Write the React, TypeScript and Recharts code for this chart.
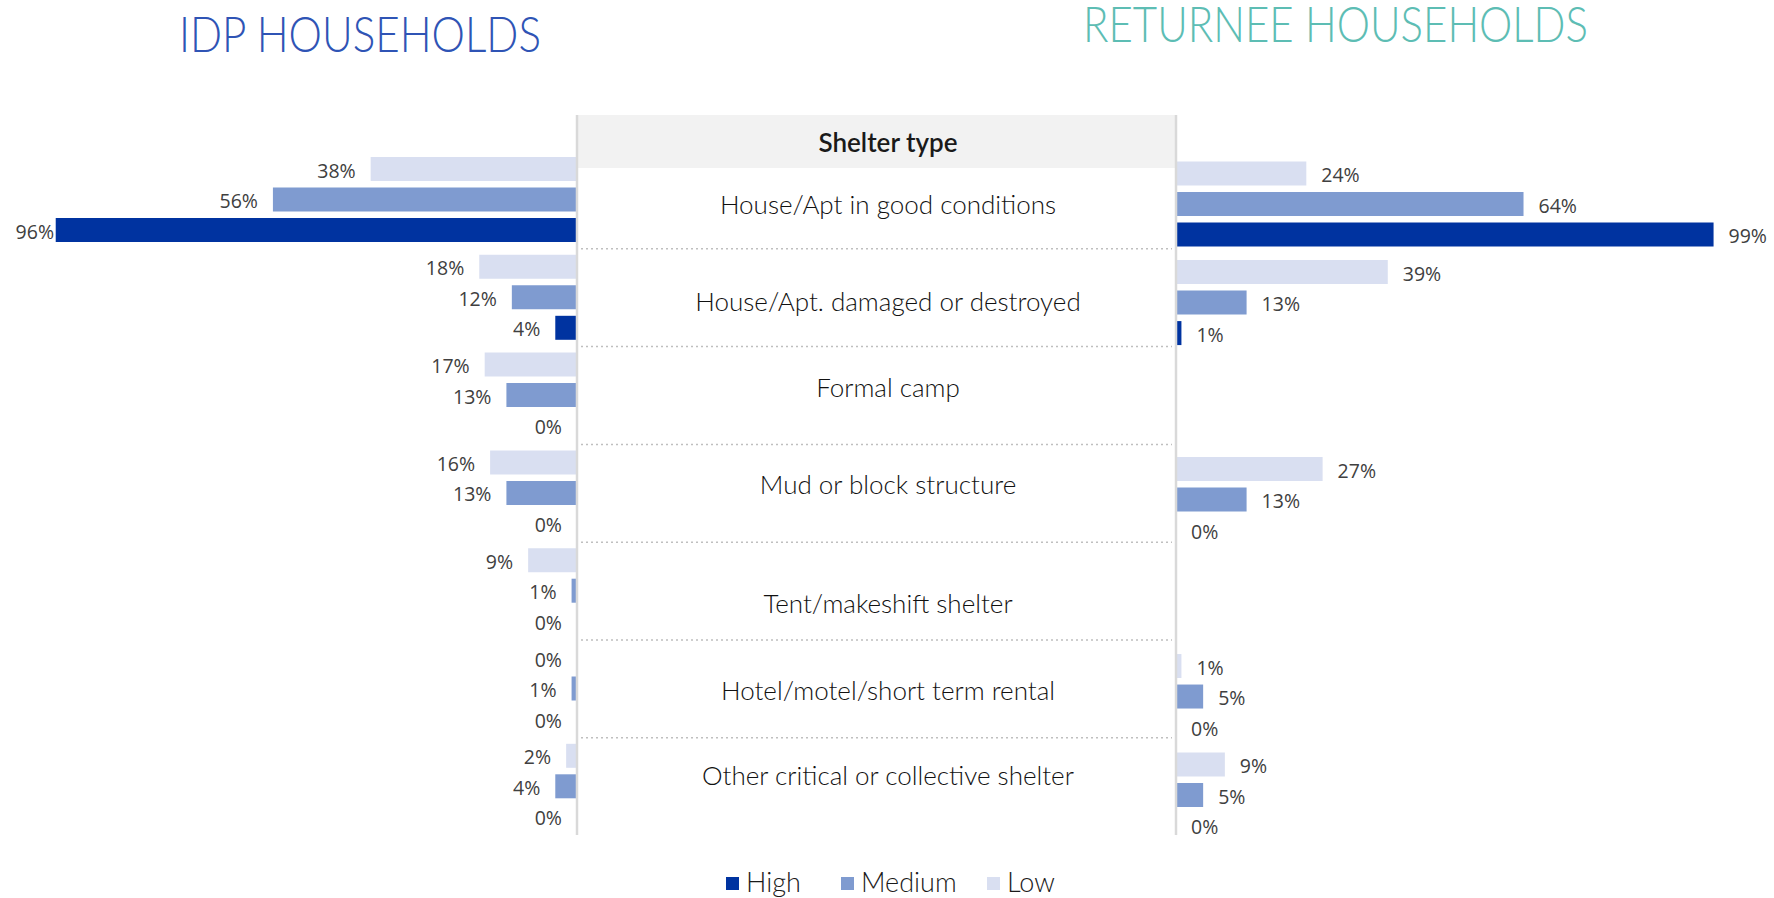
import React from 'react';
import { BarChart, Bar, XAxis, YAxis, LabelList } from 'recharts';

// ---------- DATA ----------
const CATEGORIES = [
  'House/Apt in good conditions',
  'House/Apt. damaged or destroyed',
  'Formal camp',
  'Mud or block structure',
  'Tent/makeshift shelter',
  'Hotel/motel/short term rental',
  'Other critical or collective shelter',
];

const IDP_LOW = [38, 18, 17, 16, 9, 0, 2];
const IDP_MEDIUM = [56, 12, 13, 13, 1, 1, 4];
const IDP_HIGH = [96, 4, 0, 0, 0, 0, 0];

const RET_LOW = [24, 39, null, 27, null, 1, 9];
const RET_MEDIUM = [64, 13, null, 13, null, 5, 5];
const RET_HIGH = [99, 1, null, 0, null, 0, 0];

const SERIES = [
  { key: 'low', name: 'Low', color: '#D9DFF1' },
  { key: 'medium', name: 'Medium', color: '#7F9BD0' },
  { key: 'high', name: 'High', color: '#0033A0' },
];

const TITLE_LEFT = 'IDP HOUSEHOLDS';
const TITLE_RIGHT = 'RETURNEE HOUSEHOLDS';
const TABLE_HEADER = 'Shelter type';

// ---------- LAYOUT / STYLE ----------
const W = 1774;
const H = 898;
const AXIS_L = 577;
const AXIS_R = 1176;
const LEFT_TOP = 151;
const LEFT_BOTTOM = 835.6;
const RIGHT_TOP = 154.6;
const RIGHT_BOTTOM = 844;
const PLOT_W = 543;
const TABLE_CX = 888;
const LABEL_FONT = "'Open Sans', 'Noto Sans', sans-serif";
const GILL = "Lato, 'Open Sans', sans-serif";
// vertical nudges of the table row texts relative to the band centres (table rows are uneven)
const ROW_TEXT_DY = [3.6, 3.2, -8.6, -9.4, 11.8, 1, -11.8];

const idpData = CATEGORIES.map((c, i) => ({
  category: c,
  low: IDP_LOW[i],
  medium: IDP_MEDIUM[i],
  high: IDP_HIGH[i],
}));
const retData = CATEGORIES.map((c, i) => ({
  category: c,
  low: RET_LOW[i],
  medium: RET_MEDIUM[i],
  high: RET_HIGH[i],
}));

const tinyForZero = (v: any) => (v === 0 ? 0.01 : 0);

function getBox(p: any) {
  const vb = p.viewBox || {};
  const x = p.x ?? vb.x ?? 0;
  const y = p.y ?? vb.y ?? 0;
  const w = p.width ?? vb.width ?? 0;
  const h = p.height ?? vb.height ?? 0;
  return { x, y, w, h };
}

const LeftLabel = (p: any) => {
  if (p.value === null || p.value === undefined) return null;
  const { x, y, w, h } = getBox(p);
  const x1 = Math.min(x, x + w);
  const xe = Math.max(x1 - 15, 54);
  return (
    <text x={xe} y={y + h / 2 + 1} textAnchor="end" dominantBaseline="central"
      fontFamily={LABEL_FONT} fontSize={19.5} fill="#404040">
      {`${p.value}%`}
    </text>
  );
};

const RightLabel = (p: any) => {
  if (p.value === null || p.value === undefined) return null;
  const { x, y, w, h } = getBox(p);
  const x2 = Math.max(x, x + w);
  return (
    <text x={x2 + 15} y={y + h / 2 + 1} textAnchor="start" dominantBaseline="central"
      fontFamily={LABEL_FONT} fontSize={19.5} fill="#404040">
      {`${p.value}%`}
    </text>
  );
};

const CategoryTick = (p: any) => {
  const idx = p.index ?? CATEGORIES.indexOf(p.payload?.value);
  const dy = ROW_TEXT_DY[idx] ?? 0;
  return (
    <text x={TABLE_CX} y={p.y + dy} textAnchor="middle" dominantBaseline="central"
      fontFamily={GILL} fontWeight={300} fontSize={26} fill="#111111">
      {p.payload?.value}
    </text>
  );
};

export default function App() {
  const band = (LEFT_BOTTOM - LEFT_TOP) / CATEGORIES.length;
  const separators = CATEGORIES.slice(1).map((_, i) => LEFT_TOP + band * (i + 1));
  const legendItems = [...SERIES].reverse();
  const legendX = [726, 841, 987];

  return (
    <div style={{ position: 'absolute', left: 0, top: 0, width: W, height: H, background: '#fff', overflow: 'hidden' }}>
      <svg width={W} height={H} style={{ position: 'absolute', left: 0, top: 0 }}>
        {/* table header */}
        <rect x={AXIS_L} y={115} width={AXIS_R - AXIS_L} height={53} fill="#F2F2F2" />
        <text x={TABLE_CX} y={141.5} textAnchor="middle" dominantBaseline="central"
          fontFamily={GILL} fontWeight={600} fontSize={26} fill="#1A1A1A">{TABLE_HEADER}</text>
        {separators.map((y, i) => (
          <line key={i} x1={AXIS_L + 4} x2={AXIS_R - 4} y1={y} y2={y}
            stroke="#BFBFBF" strokeWidth={1.5} strokeDasharray="2 3" />
        ))}
        {/* titles */}
        <text x={179} y={51.7} fontFamily={GILL} fontWeight={300} fontSize={50} fill="#2F54B5"
          textLength={362} lengthAdjust="spacingAndGlyphs">{TITLE_LEFT}</text>
        <text x={1083} y={41.8} fontFamily={GILL} fontWeight={300} fontSize={50} fill="#5DBDB4"
          textLength={505} lengthAdjust="spacingAndGlyphs">{TITLE_RIGHT}</text>
        {/* legend */}
        {legendItems.map((s, i) => (
          <g key={s.key}>
            <rect x={legendX[i]} y={877} width={13} height={13} fill={s.color} />
            <text x={legendX[i] + 20} y={891.5} fontFamily={GILL} fontWeight={300} fontSize={27} fill="#1A1A1A">{s.name}</text>
          </g>
        ))}
      </svg>

      <div style={{ position: 'absolute', left: 0, top: 0 }}>
        <BarChart layout="vertical" width={AXIS_R} height={H} data={idpData}
          margin={{ top: LEFT_TOP, bottom: H - LEFT_BOTTOM, left: AXIS_L - PLOT_W, right: 0 }}
          barSize={24} barGap={6.5}>
          <XAxis type="number" domain={[0, 100]} reversed hide />
          <YAxis type="category" dataKey="category" orientation="right" width={AXIS_R - AXIS_L}
            axisLine={false} tickLine={false} interval={0} tick={CategoryTick} />
          {SERIES.map((s) => (
            <Bar key={s.key} dataKey={s.key} name={s.name} fill={s.color} isAnimationActive={false}
              minPointSize={tinyForZero}>
              <LabelList dataKey={s.key} content={LeftLabel} />
            </Bar>
          ))}
        </BarChart>
      </div>

      <div style={{ position: 'absolute', left: AXIS_R, top: 0 }}>
        <BarChart layout="vertical" width={W - AXIS_R} height={H} data={retData}
          margin={{ top: RIGHT_TOP, bottom: H - RIGHT_BOTTOM, left: 0, right: W - AXIS_R - PLOT_W }}
          barSize={24} barGap={6.5}>
          <XAxis type="number" domain={[0, 100]} hide />
          <YAxis type="category" dataKey="category" hide width={0} />
          {SERIES.map((s) => (
            <Bar key={s.key} dataKey={s.key} name={s.name} fill={s.color} isAnimationActive={false}
              minPointSize={tinyForZero}>
              <LabelList dataKey={s.key} content={RightLabel} />
            </Bar>
          ))}
        </BarChart>
      </div>

      <svg width={W} height={H} style={{ position: 'absolute', left: 0, top: 0, pointerEvents: 'none' }}>
        <line x1={AXIS_L} x2={AXIS_L} y1={115} y2={835} stroke="#D9D9D9" strokeWidth={2.5} />
        <line x1={AXIS_R} x2={AXIS_R} y1={115} y2={835} stroke="#D9D9D9" strokeWidth={2.5} />
      </svg>
    </div>
  );
}
